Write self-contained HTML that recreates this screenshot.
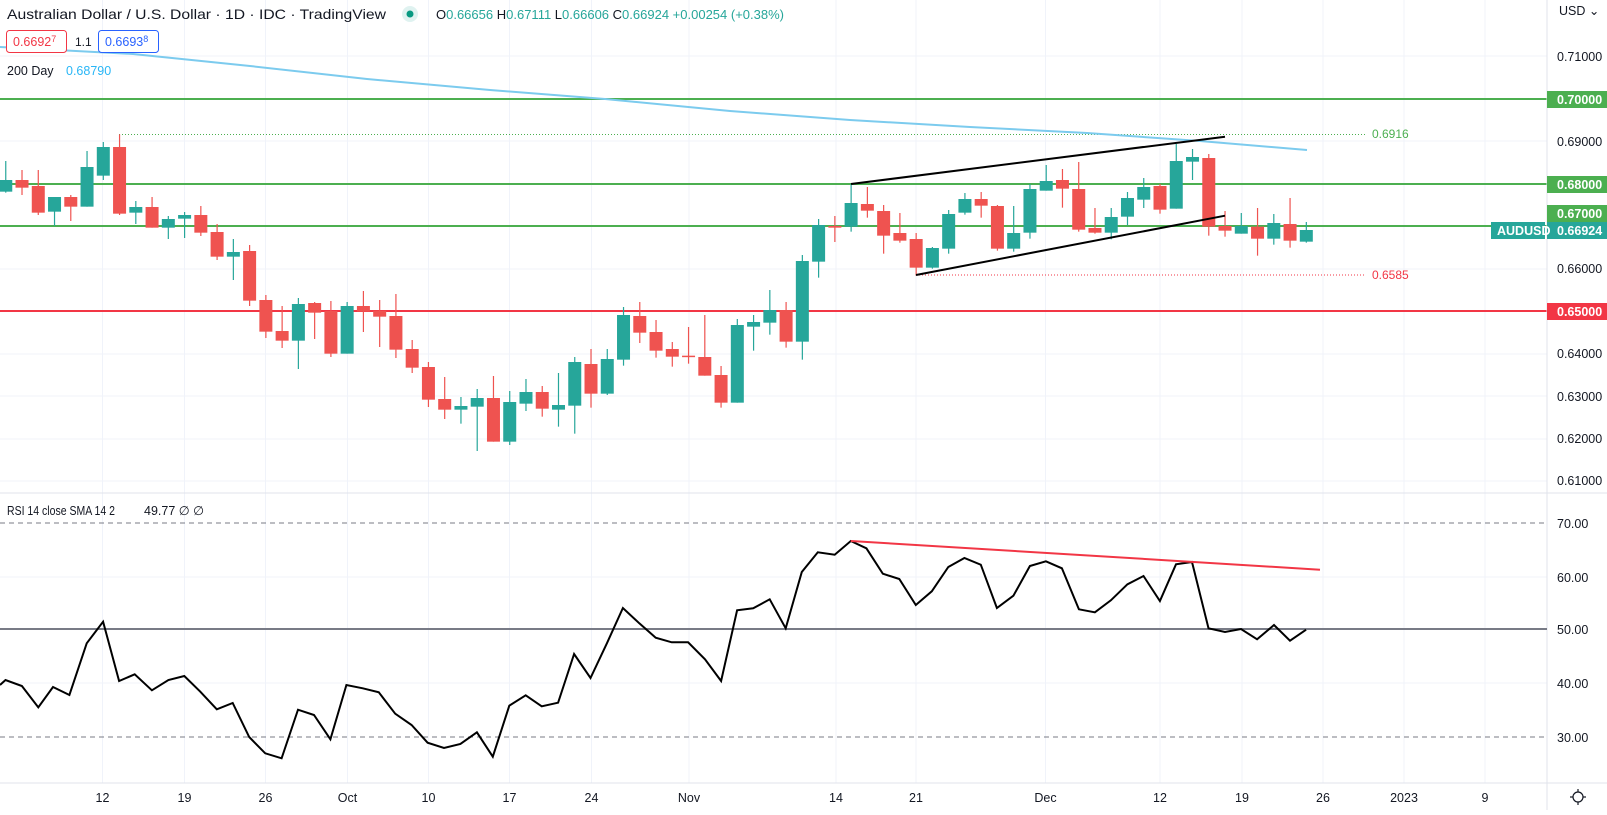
<!DOCTYPE html>
<html><head><meta charset="utf-8">
<style>
html,body{margin:0;padding:0;background:#fff;}
body{width:1607px;height:810px;overflow:hidden;font-family:"Liberation Sans",sans-serif;}
svg text{font-family:"Liberation Sans",sans-serif;}
</style></head>
<body>
<svg id="c" width="1607" height="810" viewBox="0 0 1607 810" xmlns="http://www.w3.org/2000/svg">
<rect width="1607" height="810" fill="#fff"/>
<g id="grid" stroke="#f0f3fa" stroke-width="1"></g>
<line x1="0" y1="99" x2="1547" y2="99" stroke="#4caf50" stroke-width="2"/>
<line x1="0" y1="184" x2="1547" y2="184" stroke="#4caf50" stroke-width="2"/>
<line x1="0" y1="226" x2="1547" y2="226" stroke="#4caf50" stroke-width="2"/>
<line x1="0" y1="311" x2="1547" y2="311" stroke="#f23645" stroke-width="2"/>
<line x1="119" y1="134.5" x2="1365" y2="134.5" stroke="#4caf50" stroke-width="1" stroke-dasharray="1,2"/>
<line x1="916" y1="275" x2="1365" y2="275" stroke="#f23645" stroke-width="1" stroke-dasharray="1,2"/>
<text x="1372" y="138" font-size="12" fill="#4caf50">0.6916</text>
<text x="1372" y="279" font-size="12" fill="#f23645">0.6585</text>
<polyline fill="none" stroke="#7ccbee" stroke-width="2" points="0,47 133,54 250,66 367,79 490,90 605,99 730,111 850,120 970,127 1087,133 1200,141 1307,150"/>
<g id="candles"></g>
<line x1="851" y1="184" x2="1225" y2="136.7" stroke="#000" stroke-width="2"/>
<line x1="916" y1="275" x2="1225" y2="215.7" stroke="#000" stroke-width="2"/>
<line x1="0" y1="493" x2="1607" y2="493" stroke="#e0e3eb" stroke-width="1"/>
<line x1="0" y1="783" x2="1607" y2="783" stroke="#e0e3eb" stroke-width="1"/>
<line x1="1547" y1="0" x2="1547" y2="810" stroke="#e0e3eb" stroke-width="1"/>
<line x1="0" y1="523" x2="1547" y2="523" stroke="#787b86" stroke-width="1" stroke-dasharray="5,4"/>
<line x1="0" y1="737" x2="1547" y2="737" stroke="#787b86" stroke-width="1" stroke-dasharray="5,4"/>
<line x1="0" y1="629" x2="1547" y2="629" stroke="#787b86" stroke-width="2"/>
<polyline id="rsi" fill="none" stroke="#000" stroke-width="2" stroke-linejoin="miter"/>
<line x1="850.8" y1="541" x2="1320" y2="569.7" stroke="#f23645" stroke-width="2"/>
<text x="7" y="515" font-size="12.5" fill="#131722" textLength="108" lengthAdjust="spacingAndGlyphs">RSI 14 close SMA 14 2</text>
<text x="144" y="515" font-size="12.5" fill="#131722">49.77  ∅  ∅</text>
<text x="7" y="19" font-size="14" fill="#131722" textLength="379" lengthAdjust="spacingAndGlyphs">Australian Dollar / U.S. Dollar · 1D · IDC · TradingView</text>
<circle cx="410" cy="14" r="8" fill="#26a69a" opacity="0.15"/>
<circle cx="410" cy="14" r="3.5" fill="#089981"/>
<text x="436" y="19" font-size="12.5" fill="#26a69a" textLength="348" lengthAdjust="spacingAndGlyphs"><tspan fill="#131722">O</tspan>0.66656 <tspan fill="#131722">H</tspan>0.67111 <tspan fill="#131722">L</tspan>0.66606 <tspan fill="#131722">C</tspan>0.66924 +0.00254 (+0.38%)</text>
<rect x="6.5" y="30.5" width="60" height="22" rx="3" fill="#fff" stroke="#f23645"/>
<text x="13" y="46" font-size="12.5" fill="#f23645">0.6692<tspan font-size="9" dy="-4">7</tspan></text>
<text x="75" y="46" font-size="12" fill="#131722">1.1</text>
<rect x="98.5" y="30.5" width="60" height="22" rx="3" fill="#fff" stroke="#2962ff"/>
<text x="105" y="46" font-size="12.5" fill="#2962ff">0.6693<tspan font-size="9" dy="-4">8</tspan></text>
<text x="7" y="75" font-size="12.5" fill="#131722">200 Day</text>
<text x="66" y="75" font-size="12.5" fill="#29b6f6">0.68790</text>
<g font-size="12.5" fill="#131722">
<text x="1559" y="15">USD ⌄</text>
<text x="1557" y="61">0.71000</text>
<text x="1557" y="146">0.69000</text>
<text x="1557" y="273">0.66000</text>
<text x="1557" y="358">0.64000</text>
<text x="1557" y="401">0.63000</text>
<text x="1557" y="443">0.62000</text>
<text x="1557" y="485">0.61000</text>
<text x="1557" y="528">70.00</text>
<text x="1557" y="582">60.00</text>
<text x="1557" y="634">50.00</text>
<text x="1557" y="688">40.00</text>
<text x="1557" y="742">30.00</text>
</g>
<g font-size="12.5" font-weight="bold" fill="#fff">
<rect x="1547" y="91" width="60" height="17" fill="#4caf50"/><text x="1557" y="104">0.70000</text>
<rect x="1547" y="176" width="60" height="17" fill="#4caf50"/><text x="1557" y="189">0.68000</text>
<rect x="1547" y="205" width="60" height="17" fill="#4caf50"/><text x="1557" y="218">0.67000</text>
<rect x="1547" y="222" width="60" height="17" fill="#26a69a"/><text x="1557" y="235">0.66924</text>
<rect x="1491" y="222" width="54" height="17" fill="#26a69a"/><text x="1497" y="235">AUDUSD</text>
<rect x="1547" y="303" width="60" height="17" fill="#f23645"/><text x="1557" y="316">0.65000</text>
</g>
<g font-size="12.5" fill="#131722" text-anchor="middle">
<text x="102.5" y="802">12</text><text x="184.5" y="802">19</text><text x="265.5" y="802">26</text>
<text x="347.5" y="802">Oct</text><text x="428.5" y="802">10</text><text x="509.5" y="802">17</text>
<text x="591.5" y="802">24</text><text x="689" y="802">Nov</text><text x="836" y="802">14</text>
<text x="916" y="802">21</text><text x="1045.5" y="802">Dec</text><text x="1160" y="802">12</text>
<text x="1242" y="802">19</text><text x="1323" y="802">26</text><text x="1404" y="802">2023</text>
<text x="1485" y="802">9</text>
</g>
<g transform="translate(1578,797)" stroke="#131722" fill="none" stroke-width="1.2">
<circle r="5"/><line x1="0" y1="-8" x2="0" y2="-5"/><line x1="0" y1="5" x2="0" y2="8"/>
<line x1="-8" y1="0" x2="-5" y2="0"/><line x1="5" y1="0" x2="8" y2="0"/>
</g>
</svg>
<script>
var NS="http://www.w3.org/2000/svg";
function el(t,a,p){var e=document.createElementNS(NS,t);for(var k in a)e.setAttribute(k,a[k]);p.appendChild(e);return e;}
var grid=document.getElementById('grid');
[102.5,184.5,265.5,347.5,428.5,509.5,591.5,689,836,916,1045.5,1160,1242,1323,1404,1485].forEach(function(x){el('line',{x1:x,y1:0,x2:x,y2:783},grid);});
[56,141,269,354,396,439,481].forEach(function(y){el('line',{x1:0,y1:y,x2:1547,y2:y},grid);});
[577,683].forEach(function(y){el('line',{x1:0,y1:y,x2:1547,y2:y},grid);});
var D=[[-6,'G',123,180,215,218],[-5,'R',150,180,203,225],[-4,'R',150,198,278,285],[-3,'G',231,231,275,318],[-2,'R',225,231,260,303],[-1,'G',93,141,260,260],[0,'G',66,81,167,180],[1,'R',43,81,281,285],[2,'G',243,261,278,312],[3,'R',231,261,323,323],[4,'G',288,297,323,357],[5,'G',276,285,296,354],[6,'R',258,285,338,348],[7,'R',312,336,410,420],[8,'G',357,396,410,480],[9,'R',375,393,542,558],[10,'R',525,540,635,654],[11,'R',558,633,662,684],[12,'G',534,552,662,747],[13,'R',546,549,578,657],[14,'R',543,573,701,711],[15,'G',546,558,701,701],[16,'R',513,558,575,636],[17,'R',540,572,590,681],[18,'R',522,588,689,714],[19,'R',660,687,743,759],[20,'R',726,741,839,861],[21,'R',771,837,869,897],
[22,'G',831,858,869,911],[23,'G',807,834,860,993],[24,'R',768,834,965,965],[25,'G',813,846,965,975],[26,'G',777,816,851,873],[27,'R',798,816,866,890],[28,'G',759,855,869,920],[29,'G',711,726,857,941],[30,'R',687,732,821,863],[31,'G',687,717,821,825],[32,'G',561,585,719,737],[33,'R',546,588,638,669],[34,'R',600,636,692,713],[35,'R',666,687,710,740],[36,'R',621,707,710,731],[37,'R',585,711,767,767],[38,'R',738,765,848,863],[39,'G',597,615,848,848],[40,'G',585,606,620,692],[41,'G',510,570,608,644],[42,'R',546,570,665,683],[43,'G',405,423,665,719],[44,'G',297,315,425,473],[45,'R',288,318,323,366],[46,'G',192,249,320,335],[47,'R',201,252,272,293],[48,'R',255,273,347,401],
[49,'R',279,339,362,368],[50,'R',339,357,443,467],[51,'G',381,384,443,446],[52,'G',270,282,386,401],[53,'G',219,237,278,284],[54,'R',216,237,257,293],[55,'R',255,258,386,392],[56,'G',258,339,386,395],[57,'G',192,207,338,356],[58,'G',135,183,212,212],[59,'R',147,180,206,263],[60,'R',126,207,329,335],[61,'R',264,324,338,341],[62,'G',264,291,338,358],[63,'G',216,234,290,316],[64,'G',174,201,239,264],[65,'R',192,198,269,281],[66,'G',72,123,266,266],[67,'G',87,111,125,180],[68,'R',102,114,320,347],[69,'R',273,318,332,350],[70,'G',279,318,341,341],[71,'R',264,320,356,407],[72,'G',282,309,356,374],[73,'R',234,312,362,383],[74,'G',306,330,365,368]];
var cg=document.getElementById('candles');
D.forEach(function(d){var x=103.3+d[0]*16.257;var col=d[1]=='G'?'#26a69a':'#ef5350';
var y=function(z){return z/3+120;};
el('line',{x1:x,y1:y(d[2]),x2:x,y2:y(d[5]),stroke:col,'stroke-width':1.2},cg);
var t=y(d[3]),b=y(d[4]);if(b-t<1.5)b=t+1.5;
el('rect',{x:x-6.5,y:t,width:13,height:b-t,fill:col},cg);});
var A=[[0,570],[13,555],[52,573],[91,637],[126,576],[165,600],[206,445],[245,380],[283,558],[320,538],[361,586],[400,555],[438,543],[476,590],[515,643],[553,624],[592,726],[630,775],[669,790],[708,644],[746,660],[785,733],[823,570],[862,580],[900,592],[939,656],[978,690],[1016,743],[1055,759],[1094,747],[1133,712],[1171,785],[1210,632],[1249,601],[1287,634],[1326,623],[1364,477],[1403,549],[1442,445],[1480,339],[1519,385],[1558,428]];
var B=[[73,442],[111,442],[150,493],[187,558],[224,346],[261,340],[299,313],[336,400],[373,231],[410,172],[449,179],[486,138],[522,160],[560,236],[598,252],[636,330],[673,289],[711,216],[748,189],[786,209],[823,339],[861,302],[899,213],[936,199],[973,220],[1012,343],[1049,352],[1086,316],[1124,268],[1161,243],[1199,318],[1236,208],[1273,201],[1311,400],[1349,411],[1386,402],[1423,433],[1462,390],[1499,437],[1536,404]];
var pts=[];A.forEach(function(p){pts.push((p[0]/2.376).toFixed(1)+','+(p[1]/3+495).toFixed(1));});
B.forEach(function(p){pts.push((p[0]/2.306+640).toFixed(1)+','+(p[1]/3+495).toFixed(1));});
document.getElementById('rsi').setAttribute('points',pts.join(' '));
</script>
</body></html>
